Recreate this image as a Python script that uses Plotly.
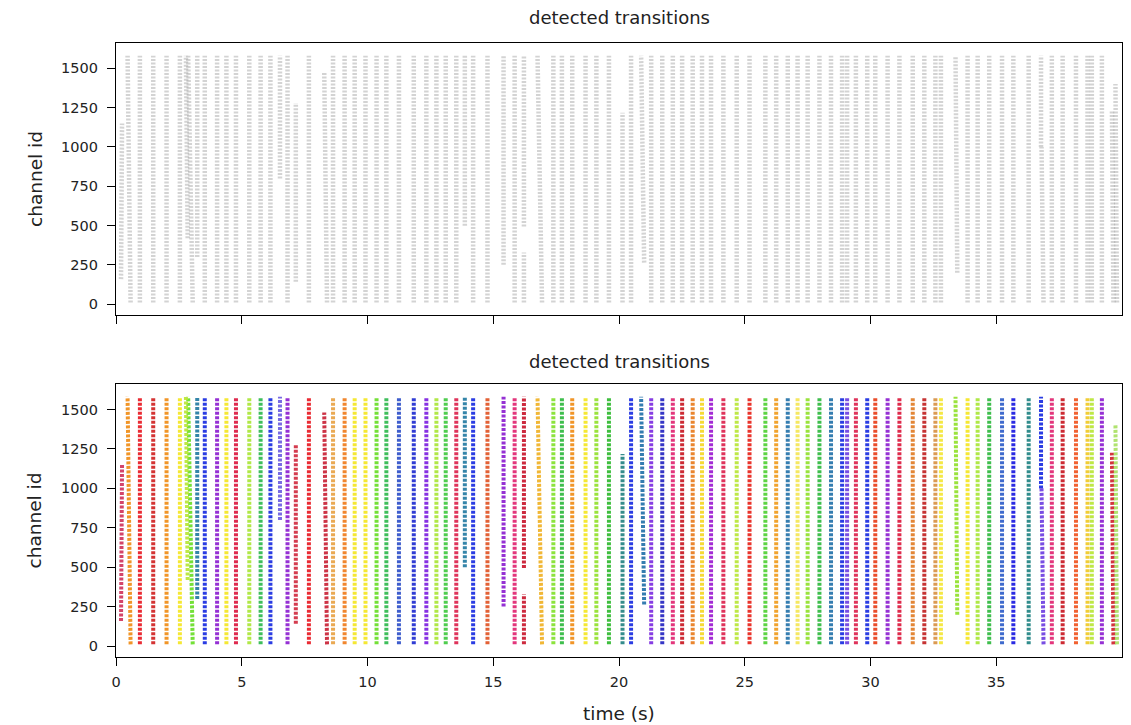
import plotly.graph_objects as go

# ---- data: one entry per detected transition (time at low channel, time at high channel,
#      low channel, high channel, colour) ----
t_low = [0.20, 0.58, 0.95, 1.48, 2.01, 2.54, 3.05, 2.85, 3.23, 3.53, 4.02, 4.39, 4.77, 5.30,
         5.75, 6.14, 6.52, 6.82, 7.15, 7.67, 8.39, 8.63, 9.09, 9.49, 9.92, 10.36, 10.75,
         11.25, 11.84, 12.34, 12.74, 13.11, 13.53, 13.87, 14.20, 14.77, 15.41, 15.85, 16.22,
         16.22, 16.94, 17.39, 17.73, 18.14, 18.67, 19.10, 19.60, 20.14, 20.48, 21.00, 21.28,
         21.72, 22.14, 22.51, 22.93, 23.30, 23.66, 24.15, 24.68, 25.19, 25.82, 26.25, 26.71,
         27.10, 27.50, 27.97, 28.43, 28.87, 29.07, 29.42, 29.87, 30.19, 30.68, 31.15, 31.68,
         32.14, 32.58, 32.80, 33.45, 33.86, 34.26, 34.72, 35.23, 35.68, 36.29, 36.78, 36.88,
         37.21, 37.64, 38.17, 38.63, 38.80, 39.20, 39.66, 39.80]
t_high = [0.24, 0.46, 0.95, 1.48, 2.01, 2.54, 2.87, 2.78, 3.23, 3.53, 4.02, 4.39, 4.77, 5.30,
          5.75, 6.14, 6.52, 6.82, 7.15, 7.67, 8.28, 8.63, 9.09, 9.49, 9.92, 10.36, 10.75,
          11.25, 11.84, 12.34, 12.74, 13.11, 13.53, 13.87, 14.20, 14.77, 15.41, 15.85, 16.22,
          16.22, 16.76, 17.39, 17.73, 18.14, 18.67, 19.10, 19.60, 20.14, 20.48, 20.88, 21.28,
          21.72, 22.14, 22.51, 22.93, 23.30, 23.66, 24.15, 24.68, 25.19, 25.82, 26.25, 26.71,
          27.10, 27.50, 27.97, 28.43, 28.87, 29.07, 29.42, 29.87, 30.19, 30.68, 31.15, 31.68,
          32.14, 32.58, 32.80, 33.38, 33.86, 34.26, 34.72, 35.23, 35.68, 36.29, 36.78, 36.80,
          37.21, 37.64, 38.17, 38.63, 38.80, 39.20, 39.60, 39.74]
ch_low = [160, 12, 12, 12, 12, 12, 12, 420, 300, 12, 12, 12, 12, 12,
          12, 12, 800, 12, 143, 12, 12, 12, 12, 12, 12, 12, 12,
          12, 12, 12, 12, 12, 12, 500, 12, 12, 252, 12, 495,
          12, 12, 12, 12, 12, 12, 12, 12, 12, 12, 265, 12,
          12, 12, 12, 12, 12, 12, 12, 12, 12, 12, 12, 12,
          12, 12, 12, 12, 12, 12, 12, 12, 12, 12, 12, 12,
          12, 12, 12, 200, 12, 12, 12, 12, 12, 12, 1000, 12,
          12, 12, 12, 12, 12, 12, 12, 12]
ch_high = [1150, 1580, 1580, 1580, 1580, 1580, 1580, 1580, 1580, 1580, 1580, 1580, 1580, 1580,
           1580, 1580, 1580, 1580, 1280, 1580, 1480, 1580, 1580, 1580, 1580, 1580, 1580,
           1580, 1580, 1580, 1580, 1580, 1580, 1580, 1580, 1580, 1580, 1580, 1580,
           330, 1580, 1580, 1580, 1580, 1580, 1580, 1580, 1218, 1580, 1580, 1580,
           1580, 1580, 1580, 1580, 1580, 1580, 1580, 1580, 1580, 1580, 1580, 1580,
           1580, 1580, 1580, 1580, 1580, 1580, 1580, 1580, 1580, 1580, 1580, 1580,
           1580, 1580, 1580, 1580, 1580, 1580, 1580, 1580, 1580, 1580, 1580, 1000,
           1580, 1580, 1580, 1580, 1580, 1580, 1225, 1400]
colors = ["#d0305a", "#f08a10", "#e8141e", "#d01e1e", "#f08a10", "#f5e61e", "#66dd22",
          "#b8e632", "#1f78a0", "#1428e0", "#8a1ad0", "#f5e61e", "#dc143c", "#a8e632",
          "#2ab84a", "#1428e0", "#6a5ae0", "#8a1ad0", "#d0283c", "#e8141e", "#c81e32",
          "#e8a040", "#f07a18", "#f5e61e", "#f5e61e", "#66dd22", "#2ab84a", "#2a4cc8",
          "#1a28d0", "#7a1ae0", "#a8e632", "#3cc83c", "#dc1e4a", "#1f78a0", "#1428e0",
          "#e05020", "#8a1ad0", "#e0206e", "#c8142a", "#c8142a", "#f0b020", "#80e028",
          "#2ab83a", "#f08a10", "#f5e61e", "#90e028", "#2ab82a", "#1f8080", "#1428e0",
          "#1f6fa8", "#7a28e0", "#2020c0", "#e0206e", "#c8141e", "#e87818", "#f5d820",
          "#9a14d0", "#dc1e4a", "#b8e632", "#e81e14", "#4cd030", "#f09a18", "#1f6fa8",
          "#f5e650", "#90e028", "#2ab83a", "#1f6fa8", "#1428e0", "#6a3ae0", "#dc1e4a",
          "#1428e0", "#e83a14", "#8a1ad0", "#dc1438", "#e07a20", "#c01e1e", "#d89040",
          "#f5e630", "#90e028", "#f5e61e", "#a8e632", "#2ab83a", "#2a5ac8", "#1414e0",
          "#1a8080", "#1428e0", "#6a3ae0", "#e0206e", "#c8141e", "#f0501a", "#f0c820",
          "#b8e632", "#8a1ad0", "#d01e2a", "#a8e060"]

x_ticks = [0, 5, 10, 15, 20, 25, 30, 35]
y_ticks = [0, 250, 500, 750, 1000, 1250, 1500]
panel_title = "detected transitions"

fig = go.Figure()

for i in range(len(t_low)):
    # top panel: grey
    fig.add_trace(go.Scatter(
        x=[t_low[i], t_high[i]], y=[ch_low[i], ch_high[i]], mode="lines",
        line=dict(color="rgba(120,120,120,0.33)", width=4.5, dash="2px,1.5px"),
        xaxis="x", yaxis="y", showlegend=False, hoverinfo="skip"))
    # bottom panel: coloured
    fig.add_trace(go.Scatter(
        x=[t_low[i], t_high[i]], y=[ch_low[i], ch_high[i]], mode="lines",
        line=dict(color=colors[i], width=4, dash="3px,1.5px"),
        opacity=0.9,
        xaxis="x2", yaxis="y2", showlegend=False, hoverinfo="skip"))

font_family = "DejaVu Sans"
axis_common = dict(showline=True, mirror=True, linecolor="black", linewidth=1.3,
                   ticks="outside", ticklen=8, tickwidth=1.3, tickcolor="black",
                   showgrid=False, zeroline=False,
                   tickfont=dict(family=font_family, size=14.5, color="#222"))

top_dom = [0.557, 1]
bot_dom = [0, 0.4446]

# the page body adds an 8 px offset, so the figure is 8 px smaller than the window
fig.update_layout(
    width=1123, height=717,
    margin=dict(l=108, r=9, t=35, b=68, autoexpand=False),
    plot_bgcolor="white", paper_bgcolor="white",
    xaxis=dict(domain=[0, 1], anchor="y", range=[0, 40], tickvals=x_ticks,
               showticklabels=False, **axis_common),
    yaxis=dict(domain=top_dom, anchor="x", range=[-68, 1661], tickvals=y_ticks,
               ticklabelstandoff=6, **axis_common),
    xaxis2=dict(domain=[0, 1], anchor="y2", range=[0, 40], tickvals=x_ticks,
                matches="x", ticklabelstandoff=3, **axis_common),
    yaxis2=dict(domain=bot_dom, anchor="x2", range=[-68, 1661], tickvals=y_ticks,
                ticklabelstandoff=6, **axis_common),
    annotations=[
        dict(text=panel_title, xref="paper", yref="paper", x=0.5, y=top_dom[1],
             xanchor="center", yanchor="bottom", yshift=13, showarrow=False,
             font=dict(family=font_family, size=18, color="#222")),
        dict(text=panel_title, xref="paper", yref="paper", x=0.5, y=bot_dom[1],
             xanchor="center", yanchor="bottom", yshift=10, showarrow=False,
             font=dict(family=font_family, size=18, color="#222")),
        dict(text="channel id", xref="paper", yref="paper", x=0, y=sum(top_dom) / 2,
             xanchor="center", yanchor="middle", xshift=-81, textangle=-90, showarrow=False,
             font=dict(family=font_family, size=18.5, color="#222")),
        dict(text="channel id", xref="paper", yref="paper", x=0, y=sum(bot_dom) / 2,
             xanchor="center", yanchor="middle", xshift=-81, textangle=-90, showarrow=False,
             font=dict(family=font_family, size=18.5, color="#222")),
        dict(text="time (s)", xref="paper", yref="paper", x=0.5, y=0, xanchor="center",
             yanchor="top", yshift=-44, showarrow=False,
             font=dict(family=font_family, size=18.5, color="#222")),
    ],
)

fig.write_html("out.html")
